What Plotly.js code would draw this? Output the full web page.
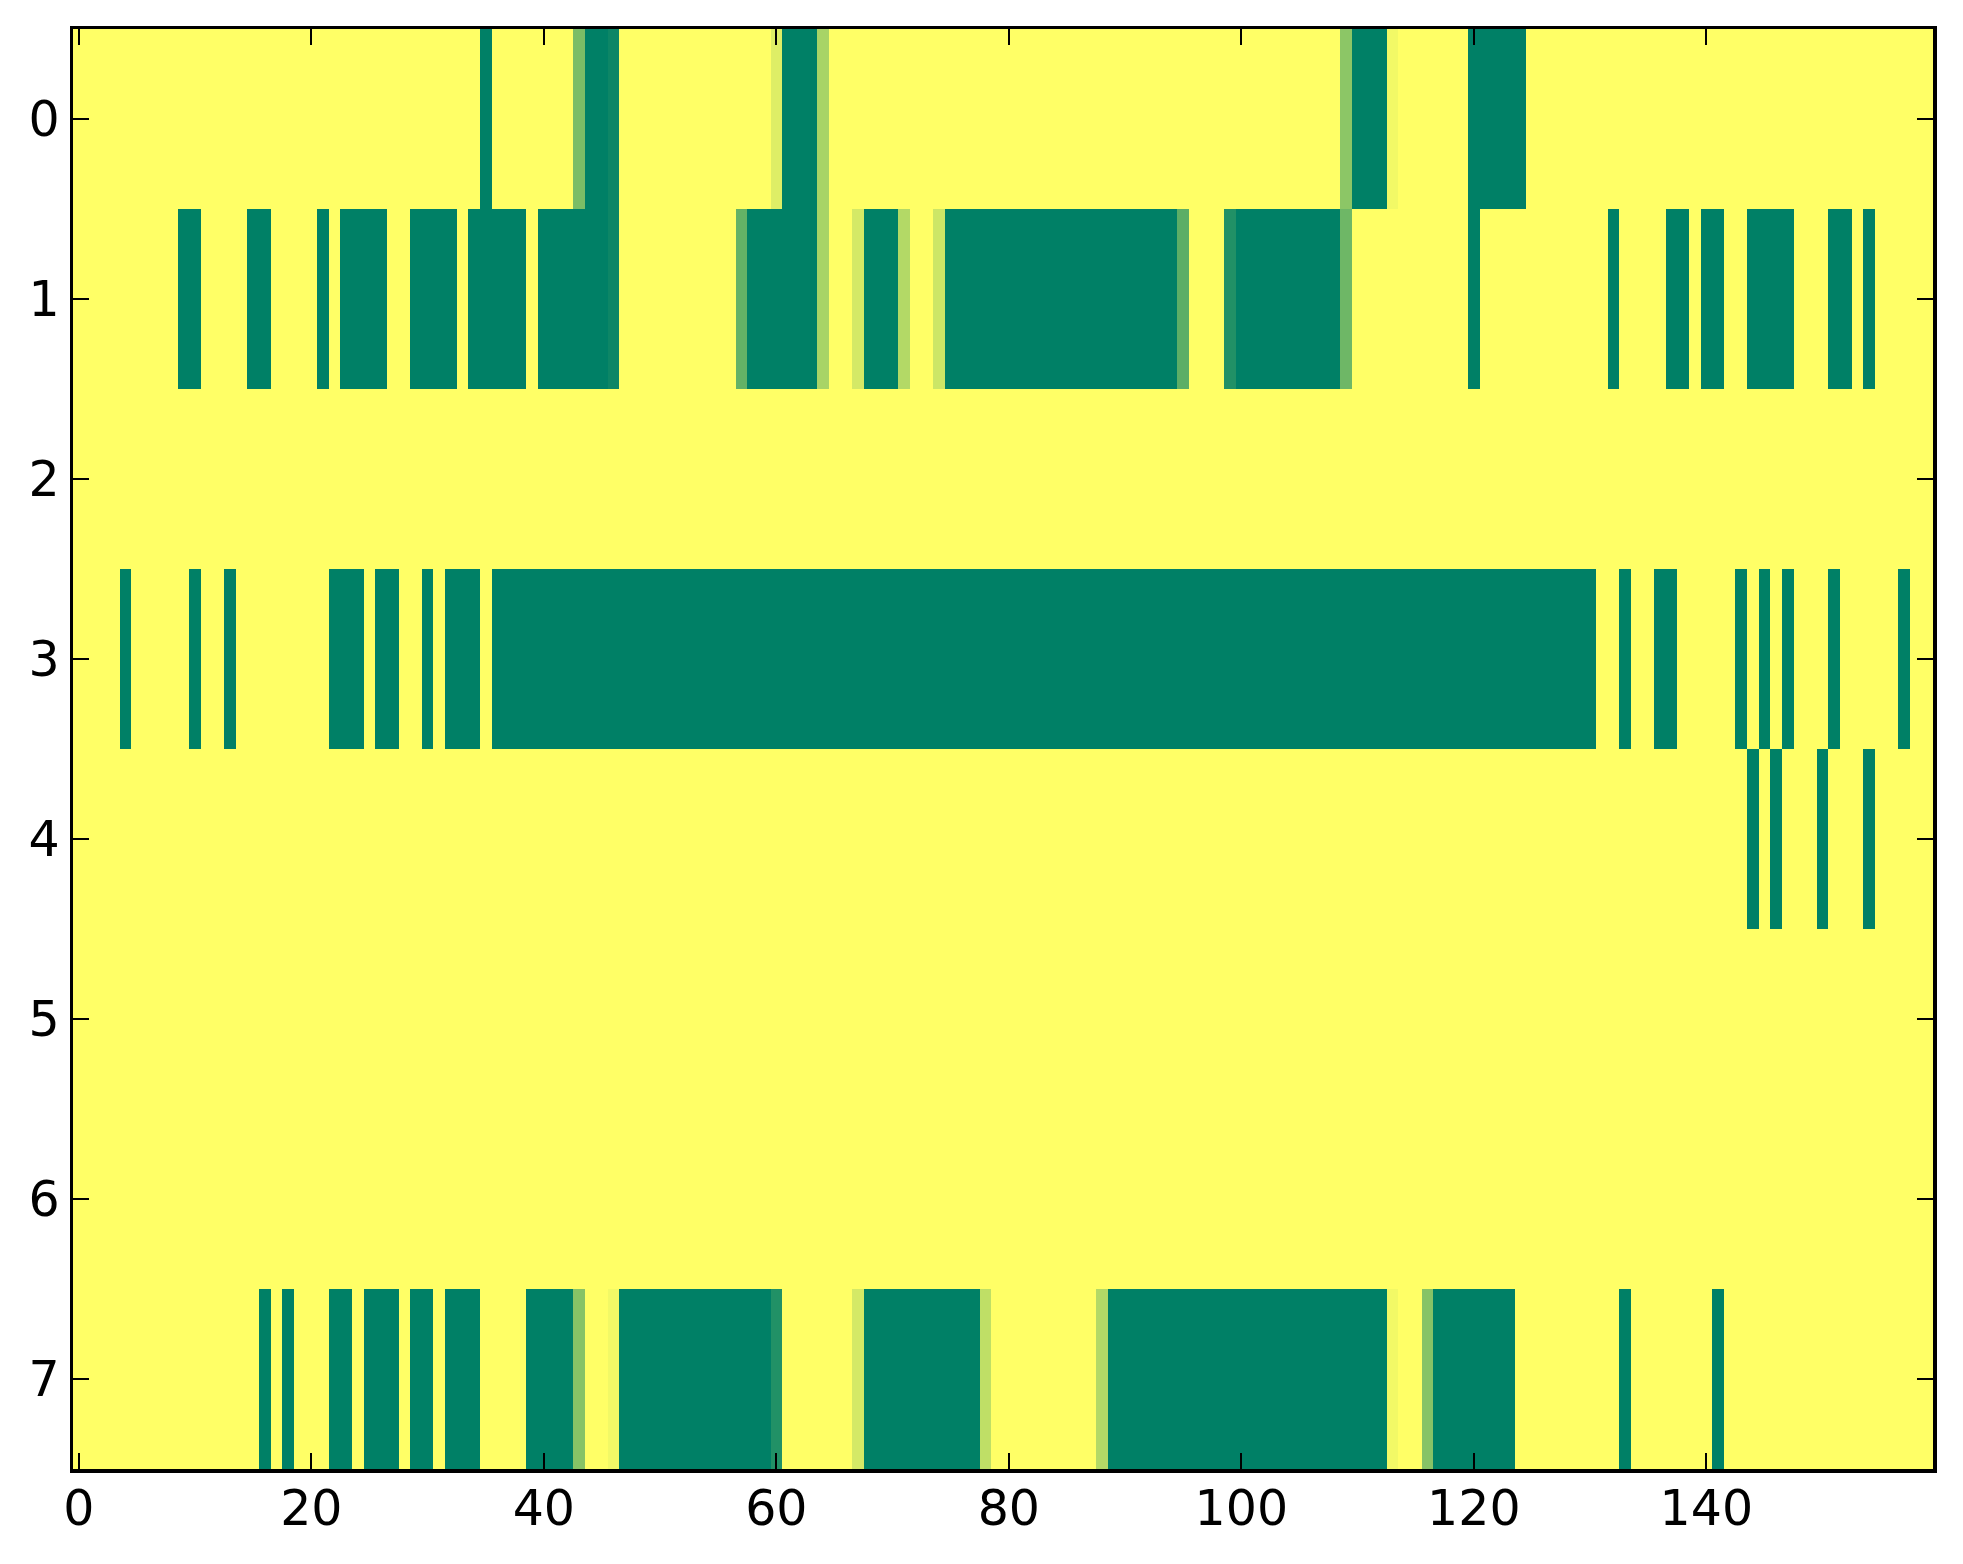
<!DOCTYPE html>
<html>
<head>
<meta charset="utf-8">
<script src="https://cdn.plot.ly/plotly-3.0.1.min.js"></script>
<style>html,body{margin:0;padding:0;background:#fff;}#chart{width:1963px;height:1564px;}</style>
</head>
<body>
<div id="chart"></div>
<script>
// Column indices 0..159, row indices 0..7
var xTicks = [0, 20, 40, 60, 80, 100, 120, 140];
var yTicks = [0, 1, 2, 3, 4, 5, 6, 7];

var row0 = [
  0,0,0,0,0,0,0,0,0,0,
  0,0,0,0,0,0,0,0,0,0,
  0,0,0,0,0,0,0,0,0,0,
  0,0,0,0,0,1,0,0,0,0,
  0,0,0,0.52,1,1,0.95,0,0,0,
  0,0,0,0,0,0,0,0,0,0,
  0.13,1,1,1,0.34,0,0,0,0,0,
  0,0,0,0,0,0,0,0,0,0,
  0,0,0,0,0,0,0,0,0,0,
  0,0,0,0,0,0,0,0,0,0,
  0,0,0,0,0,0,0,0,0,0.45,
  1,1,1,0.05,0,0,0,0,0,0,
  1,1,1,1,1,0,0,0,0,0,
  0,0,0,0,0,0,0,0,0,0,
  0,0,0,0,0,0,0,0,0,0,
  0,0,0,0,0,0,0,0,0,0
];
var row1 = [
  0,0,0,0,0,0,0,0,0,1,
  1,0,0,0,0,1,1,0,0,0,
  0,1,0,1,1,1,1,0,0,1,
  1,1,1,0,1,1,1,1,1,0,
  1,1,1,1,1,1,0.95,0,0,0,
  0,0,0,0,0,0,0,0.61,1,1,
  1,1,1,1,0.34,0,0,0.17,1,1,
  1,0.30,0,0,0.2,1,1,1,1,1,
  1,1,1,1,1,1,1,1,1,1,
  1,1,1,1,1,0.64,0,0,0,0.87,
  1,1,1,1,1,1,1,1,1,0.57,
  0,0,0,0,0,0,0,0,0,0,
  1,0,0,0,0,0,0,0,0,0,
  0,0,1,0,0,0,0,1,1,0,
  1,1,0,0,1,1,1,1,0,0,
  0,1,1,0,1,0,0,0,0,0
];
var row2 = [
  0,0,0,0,0,0,0,0,0,0,
  0,0,0,0,0,0,0,0,0,0,
  0,0,0,0,0,0,0,0,0,0,
  0,0,0,0,0,0,0,0,0,0,
  0,0,0,0,0,0,0,0,0,0,
  0,0,0,0,0,0,0,0,0,0,
  0,0,0,0,0,0,0,0,0,0,
  0,0,0,0,0,0,0,0,0,0,
  0,0,0,0,0,0,0,0,0,0,
  0,0,0,0,0,0,0,0,0,0,
  0,0,0,0,0,0,0,0,0,0,
  0,0,0,0,0,0,0,0,0,0,
  0,0,0,0,0,0,0,0,0,0,
  0,0,0,0,0,0,0,0,0,0,
  0,0,0,0,0,0,0,0,0,0,
  0,0,0,0,0,0,0,0,0,0
];
var row3 = [
  0,0,0,0,1,0,0,0,0,0,
  1,0,0,1,0,0,0,0,0,0,
  0,0,1,1,1,0,1,1,0,0,
  1,0,1,1,1,0,1,1,1,1,
  1,1,1,1,1,1,1,1,1,1,
  1,1,1,1,1,1,1,1,1,1,
  1,1,1,1,1,1,1,1,1,1,
  1,1,1,1,1,1,1,1,1,1,
  1,1,1,1,1,1,1,1,1,1,
  1,1,1,1,1,1,1,1,1,1,
  1,1,1,1,1,1,1,1,1,1,
  1,1,1,1,1,1,1,1,1,1,
  1,1,1,1,1,1,1,1,1,1,
  1,0,0,1,0,0,1,1,0,0,
  0,0,0,1,0,1,0,1,0,0,
  0,1,0,0,0,0,0,1,0,0
];
var row4 = [
  0,0,0,0,0,0,0,0,0,0,
  0,0,0,0,0,0,0,0,0,0,
  0,0,0,0,0,0,0,0,0,0,
  0,0,0,0,0,0,0,0,0,0,
  0,0,0,0,0,0,0,0,0,0,
  0,0,0,0,0,0,0,0,0,0,
  0,0,0,0,0,0,0,0,0,0,
  0,0,0,0,0,0,0,0,0,0,
  0,0,0,0,0,0,0,0,0,0,
  0,0,0,0,0,0,0,0,0,0,
  0,0,0,0,0,0,0,0,0,0,
  0,0,0,0,0,0,0,0,0,0,
  0,0,0,0,0,0,0,0,0,0,
  0,0,0,0,0,0,0,0,0,0,
  0,0,0,0,1,0,1,0,0,0,
  1,0,0,0,1,0,0,0,0,0
];
var row5 = [
  0,0,0,0,0,0,0,0,0,0,
  0,0,0,0,0,0,0,0,0,0,
  0,0,0,0,0,0,0,0,0,0,
  0,0,0,0,0,0,0,0,0,0,
  0,0,0,0,0,0,0,0,0,0,
  0,0,0,0,0,0,0,0,0,0,
  0,0,0,0,0,0,0,0,0,0,
  0,0,0,0,0,0,0,0,0,0,
  0,0,0,0,0,0,0,0,0,0,
  0,0,0,0,0,0,0,0,0,0,
  0,0,0,0,0,0,0,0,0,0,
  0,0,0,0,0,0,0,0,0,0,
  0,0,0,0,0,0,0,0,0,0,
  0,0,0,0,0,0,0,0,0,0,
  0,0,0,0,0,0,0,0,0,0,
  0,0,0,0,0,0,0,0,0,0
];
var row6 = [
  0,0,0,0,0,0,0,0,0,0,
  0,0,0,0,0,0,0,0,0,0,
  0,0,0,0,0,0,0,0,0,0,
  0,0,0,0,0,0,0,0,0,0,
  0,0,0,0,0,0,0,0,0,0,
  0,0,0,0,0,0,0,0,0,0,
  0,0,0,0,0,0,0,0,0,0,
  0,0,0,0,0,0,0,0,0,0,
  0,0,0,0,0,0,0,0,0,0,
  0,0,0,0,0,0,0,0,0,0,
  0,0,0,0,0,0,0,0,0,0,
  0,0,0,0,0,0,0,0,0,0,
  0,0,0,0,0,0,0,0,0,0,
  0,0,0,0,0,0,0,0,0,0,
  0,0,0,0,0,0,0,0,0,0,
  0,0,0,0,0,0,0,0,0,0
];
var row7 = [
  0,0,0,0,0,0,0,0,0,0,
  0,0,0,0,0,0,1,0,1,0,
  0,0,1,1,0,1,1,1,0,1,
  1,0,1,1,1,0,0,0,0,1,
  1,1,1,0.47,0,0,0.05,1,1,1,
  1,1,1,1,1,1,1,1,1,1,
  0.87,0,0,0,0,0,0,0.17,1,1,
  1,1,1,1,1,1,1,1,0.25,0,
  0,0,0,0,0,0,0,0,0.30,1,
  1,1,1,1,1,1,1,1,1,1,
  1,1,1,1,1,1,1,1,1,1,
  1,1,1,0.05,0,0,0.47,1,1,1,
  1,1,1,1,0,0,0,0,0,0,
  0,0,0,1,0,0,0,0,0,0,
  0,1,0,0,0,0,0,0,0,0,
  0,0,0,0,0,0,0,0,0,0
];

var zRows = [row0, row1, row2, row3, row4, row5, row6, row7];

var trace = {
  type: 'heatmap',
  z: zRows,
  zmin: 0,
  zmax: 1,
  zsmooth: false,
  colorscale: [[0, '#ffff66'], [1, '#008066']],
  showscale: false,
  hoverinfo: 'skip'
};

var axisCommon = {
  showline: true,
  linecolor: '#000',
  linewidth: 3.5,
  mirror: 'ticks',
  ticks: 'inside',
  ticklen: 16,
  tickwidth: 2,
  tickcolor: '#000',
  showgrid: false,
  zeroline: false,
  tickfont: {family: 'DejaVu Sans', size: 49, color: '#000'}
};

var layout = {
  width: 1963,
  height: 1564,
  margin: {l: 73, r: 30, t: 29, b: 95, pad: 0},
  paper_bgcolor: '#fff',
  plot_bgcolor: '#fff',
  showlegend: false,
  xaxis: Object.assign({}, axisCommon, {
    range: [-0.5, 159.5],
    tickmode: 'array',
    tickvals: xTicks,
    ticktext: xTicks.map(String),
    ticklabelstandoff: -6
  }),
  yaxis: Object.assign({}, axisCommon, {
    range: [7.5, -0.5],
    tickmode: 'array',
    tickvals: yTicks,
    ticktext: yTicks.map(String),
    ticklabelstandoff: 0
  })
};

Plotly.newPlot('chart', [trace], layout, {displayModeBar: false, staticPlot: true});
</script>
</body>
</html>
